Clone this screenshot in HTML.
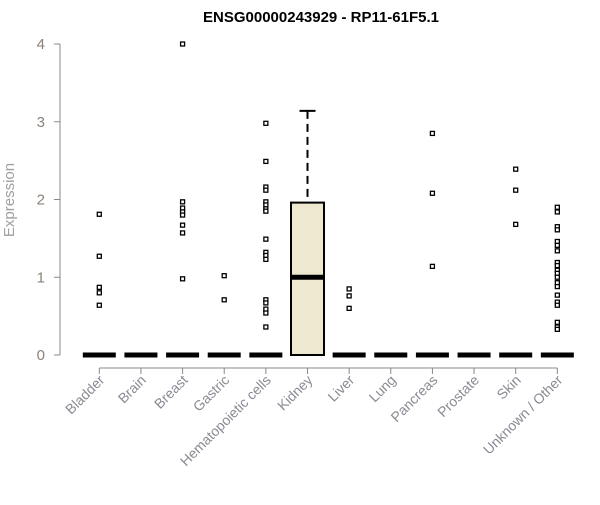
<!DOCTYPE html>
<html><head><meta charset="utf-8"><style>
body{margin:0;background:#fff;}
svg text{font-family:"Liberation Sans",Arial,sans-serif;}
</style></head><body>
<svg id="chart" width="600" height="500" viewBox="0 0 600 500" xmlns="http://www.w3.org/2000/svg">
<text x="321" y="22" text-anchor="middle" font-size="15" font-weight="bold" fill="#000">ENSG00000243929 - RP11-61F5.1</text>
<text transform="translate(14,200) rotate(-90)" text-anchor="middle" font-size="15" fill="#a0a0a0">Expression</text>
<g id="axes"></g>
<g id="marks"></g>
</svg>
<script>
const categories=["Bladder","Brain","Breast","Gastric","Hematopoietic cells","Kidney","Liver","Lung","Pancreas","Prostate","Skin","Unknown / Other"];
const q1=[0,0,0,0,0,0,0,0,0,0,0,0];
const medians=[0,0,0,0,0,1.0,0,0,0,0,0,0];
const q3=[0,0,0,0,0,1.96,0,0,0,0,0,0];
const whiskerHigh=[0,0,0,0,0,3.14,0,0,0,0,0,0];
const outliers=[
[1.81,1.27,0.87,0.80,0.64],
[],
[4.0,1.97,1.89,1.84,1.80,1.67,1.57,0.98],
[1.02,0.71],
[2.98,2.49,2.16,2.12,1.97,1.93,1.88,1.85,1.49,1.32,1.28,1.23,0.71,0.67,0.59,0.54,0.36],
[],
[0.85,0.76,0.60],
[],
[2.85,2.08,1.14],
[],
[2.39,2.12,1.68],
[1.90,1.84,1.65,1.61,1.46,1.41,1.34,1.19,1.15,1.09,1.05,1.00,0.93,0.88,0.77,0.68,0.64,0.42,0.36,0.33]
];
const yTicks=[0,1,2,3,4];
const NS="http://www.w3.org/2000/svg";
const y=v=>355-v*77.75;
const x=i=>99.3+i*41.64;
const axes=document.getElementById('axes'),marks=document.getElementById('marks');
function mk(tag,attrs,parent){const e=document.createElementNS(NS,tag);for(const k in attrs)e.setAttribute(k,attrs[k]);parent.appendChild(e);return e;}
const tc="#8b8178";
let e=mk('line',{x1:60,x2:60,y1:y(4),y2:y(0),stroke:'#888'},axes);


yTicks.forEach(t=>{
 let l=mk('line',{x1:54,x2:60,y1:y(t),y2:y(t),stroke:'#888'},axes);
 
 
 let tx=mk('text',{x:45,y:y(t)+5,'text-anchor':'end','font-size':15,fill:tc},axes);
 tx.textContent=t;
 
 
});
e=mk('line',{x1:x(0),x2:x(11),y1:368,y2:368,stroke:'#888'},axes);


categories.forEach((c,i)=>{
 let l=mk('line',{x1:x(i),x2:x(i),y1:368,y2:374,stroke:'#888'},axes);
 
 
 let tx=mk('text',{x:0,y:0,'text-anchor':'end','font-size':14,fill:'#8a8a94',transform:`translate(${x(i)+6},381) rotate(-45)`},axes);
 tx.textContent=c;
 
 
 const g=mk('g',{},marks);
 
 
 const hw=16.5;
 if(q3[i]>q1[i]){
  let w=mk('line',{x1:x(i),x2:x(i),y1:y(whiskerHigh[i]),y2:y(q3[i]),stroke:'#000','stroke-width':2,'stroke-dasharray':'8,5'},g);
  
  
  let cap=mk('line',{x1:x(i)-8,x2:x(i)+8,y1:y(whiskerHigh[i]),y2:y(whiskerHigh[i]),stroke:'#000','stroke-width':2},g);
  
  
  let r=mk('rect',{x:x(i)-hw,y:y(q3[i]),width:2*hw,height:y(q1[i])-y(q3[i]),fill:'#ede8cf',stroke:'#000','stroke-width':2},g);
  
  
 }
 let m=mk('line',{x1:x(i)-hw,x2:x(i)+hw,y1:y(medians[i]),y2:y(medians[i]),stroke:'#000','stroke-width':5},g);
 
 
 outliers[i].forEach(v=>{
  let p=mk('rect',{x:x(i)-2,y:y(v)-2,width:4,height:4,fill:'#fff',stroke:'#000','stroke-width':1.3},g);
  
  
 });
});
</script>
</body></html>
